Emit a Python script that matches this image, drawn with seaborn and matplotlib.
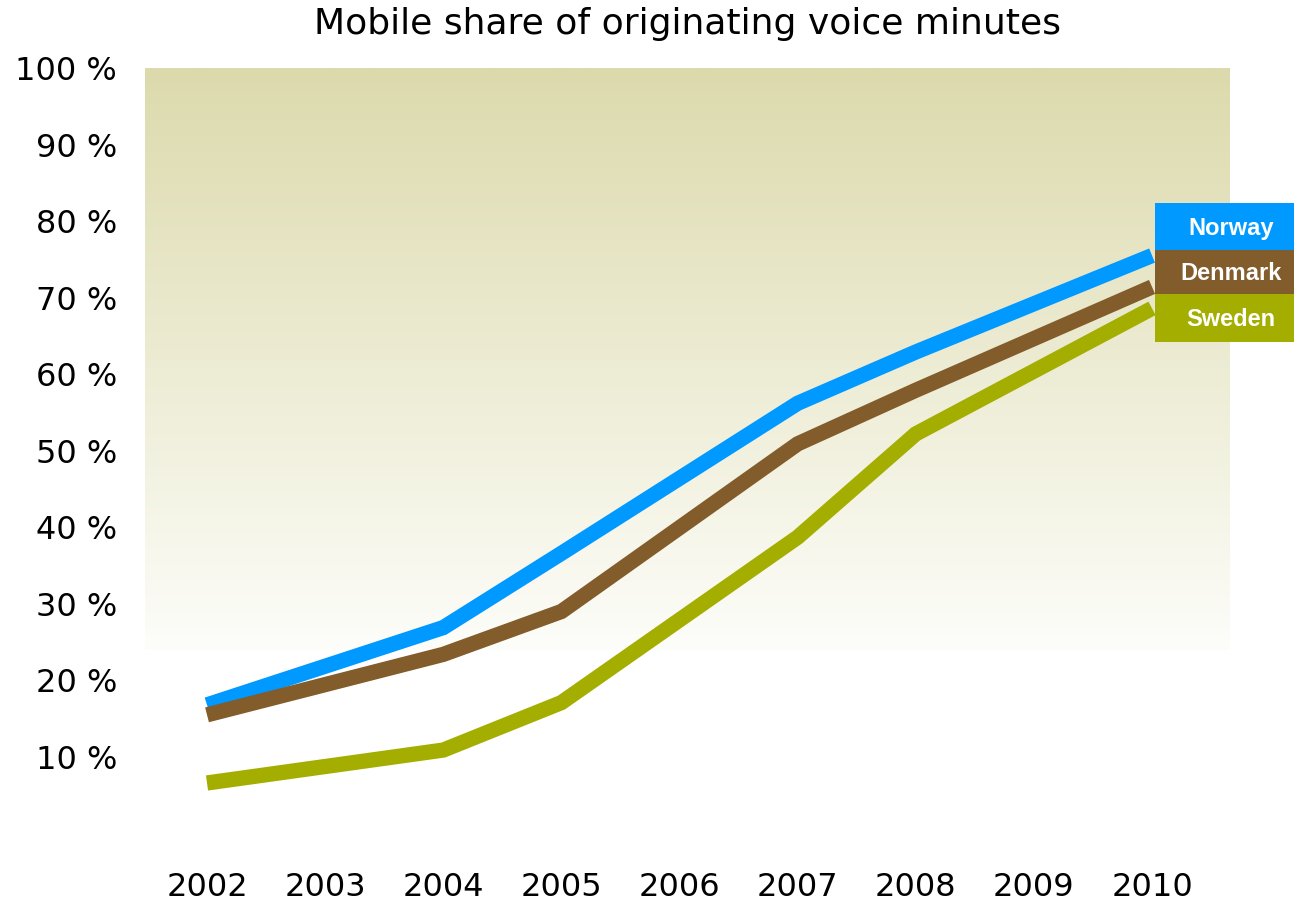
import numpy as np
import pandas as pd
import matplotlib
matplotlib.use("Agg")
import matplotlib.pyplot as plt
from matplotlib.colors import LinearSegmentedColormap
from matplotlib.patches import Rectangle
import seaborn as sns

# data (percent of originating voice minutes)
years = [2002, 2004, 2005, 2007, 2008, 2010]
norway = [16.8, 26.9, 36.6, 56.2, 62.9, 75.5]
denmark = [15.5, 23.4, 29.0, 50.9, 57.9, 71.4]
sweden = [6.6, 10.9, 17.1, 38.7, 52.2, 68.6]

countries = ["Norway", "Denmark", "Sweden"]
colors = ["#0099FF", "#825C2A", "#A4AE00"]
tick_years = list(range(2002, 2011))
y_ticks = list(range(10, 101, 10))

df = pd.DataFrame({
    "year": years * 3,
    "share": norway + denmark + sweden,
    "country": np.repeat(countries, len(years)),
})

sns.set_style("white")
plt.rcParams["font.family"] = ["DejaVu Sans"]
plt.rcParams["text.color"] = "black"
plt.rcParams["xtick.color"] = "black"
plt.rcParams["ytick.color"] = "black"

fig = plt.figure(figsize=(12.94, 9.01), dpi=100)
ax = fig.add_axes([145 / 1294, 67.5 / 901, 1085 / 1294, 765.5 / 901])

xmin, xmax = 2001.475, 2010.66
ax.set_xlim(xmin, xmax)
ax.set_ylim(0, 100)

# gradient background (tan at top fading to white)
grad_cmap = LinearSegmentedColormap.from_list("bg", ["#FDFDFA", "#DCDAAC"])
grad = np.linspace(0, 1, 256).reshape(-1, 1)
ax.imshow(grad, cmap=grad_cmap, origin="lower", aspect="auto",
          extent=[xmin, xmax, 24, 100], zorder=0)

sns.lineplot(data=df, x="year", y="share", hue="country", palette=colors,
             hue_order=countries, linewidth=11, legend=False, ax=ax,
             solid_capstyle="butt", solid_joinstyle="miter", zorder=2)

for s in ax.spines.values():
    s.set_visible(False)
ax.set_xlabel("")
ax.set_ylabel("")
ax.set_xticks(tick_years)
ax.set_xticklabels([str(y) for y in tick_years], fontsize=23)
ax.set_yticks(y_ticks)
ax.set_yticklabels([f"{v} %" for v in y_ticks], fontsize=23)
ax.tick_params(axis="x", length=0, pad=28, colors="black")
ax.tick_params(axis="y", length=0, pad=20, colors="black")
ax.set_xlim(xmin, xmax)
ax.set_ylim(0, 100)

fig.text(687 / 1294, 1 - 24 / 901, "Mobile share of originating voice minutes",
         ha="center", va="center", fontsize=26, color="black")

# stacked name boxes at the right edge
box_tops = [203, 250, 294]
box_bottoms = [250, 294, 342]
text_font = ["Liberation Sans", "DejaVu Sans"]
for name, col, top, bot in zip(countries, colors, box_tops, box_bottoms):
    fig.patches.append(Rectangle((1155 / 1294, 1 - bot / 901), 139 / 1294,
                                 (bot - top) / 901, transform=fig.transFigure,
                                 facecolor=col, edgecolor="none", zorder=5))
    fig.text(1231 / 1294, 1 - ((top + bot) / 2 + 2) / 901, name, ha="center",
             va="center", color="white", fontsize=17, fontweight="bold",
             family=text_font, zorder=6)

fig.savefig("out.png", dpi=100)
